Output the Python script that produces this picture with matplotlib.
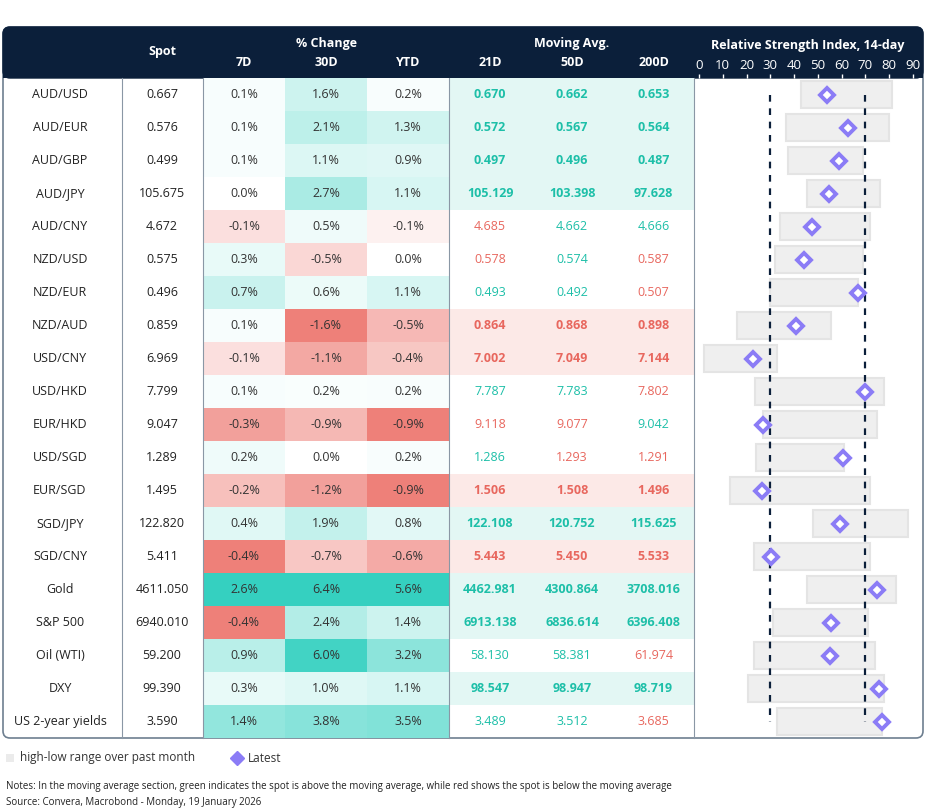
import matplotlib.pyplot as plt
from matplotlib.patches import Rectangle, FancyBboxPatch
import numpy as np

plt.rcParams['font.family'] = ['Open Sans', 'DejaVu Sans']

# --- data ---
pairs = ['AUD/USD', 'AUD/EUR', 'AUD/GBP', 'AUD/JPY', 'AUD/CNY', 'NZD/USD', 'NZD/EUR', 'NZD/AUD',
         'USD/CNY', 'USD/HKD', 'EUR/HKD', 'USD/SGD', 'EUR/SGD', 'SGD/JPY', 'SGD/CNY', 'Gold',
         'S&P 500', 'Oil (WTI)', 'DXY', 'US 2-year yields']
spot = [0.667, 0.576, 0.499, 105.675, 4.672, 0.575, 0.496, 0.859, 6.969, 7.799, 9.047, 1.289,
        1.495, 122.820, 5.411, 4611.050, 6940.010, 59.200, 99.390, 3.590]
chg_7d = [0.1, 0.1, 0.1, 0.0, -0.1, 0.3, 0.7, 0.1, -0.1, 0.1, -0.3, 0.2, -0.2, 0.4, -0.4, 2.6, -0.4, 0.9, 0.3, 1.4]
chg_30d = [1.6, 2.1, 1.1, 2.7, 0.5, -0.5, 0.6, -1.6, -1.1, 0.2, -0.9, 0.0, -1.2, 1.9, -0.7, 6.4, 2.4, 6.0, 1.0, 3.8]
chg_ytd = [0.2, 1.3, 0.9, 1.1, -0.1, 0.0, 1.1, -0.5, -0.4, 0.2, -0.9, 0.2, -0.9, 0.8, -0.6, 5.6, 1.4, 3.2, 1.1, 3.5]
ma_21 = [0.670, 0.572, 0.497, 105.129, 4.685, 0.578, 0.493, 0.864, 7.002, 7.787, 9.118, 1.286,
         1.506, 122.108, 5.443, 4462.981, 6913.138, 58.130, 98.547, 3.489]
ma_50 = [0.662, 0.567, 0.496, 103.398, 4.662, 0.574, 0.492, 0.868, 7.049, 7.783, 9.077, 1.293,
         1.508, 120.752, 5.450, 4300.864, 6836.614, 58.381, 98.947, 3.512]
ma_200 = [0.653, 0.564, 0.487, 97.628, 4.666, 0.587, 0.507, 0.898, 7.144, 7.802, 9.042, 1.291,
          1.496, 115.625, 5.533, 3708.016, 6396.408, 61.974, 98.719, 3.685]
# spot above (1) / below (0) each moving average, as coloured in the reference
above_21 = [1, 1, 1, 1, 0, 0, 1, 0, 0, 1, 0, 1, 0, 1, 0, 1, 1, 1, 1, 1]
above_50 = [1, 1, 1, 1, 1, 1, 1, 0, 0, 1, 0, 0, 0, 1, 0, 1, 1, 1, 1, 1]
above_200 = [1, 1, 1, 1, 1, 0, 0, 0, 0, 0, 1, 0, 0, 1, 0, 1, 1, 0, 1, 0]
rsi_latest = [53.8, 62.7, 59.0, 54.7, 47.5, 44.0, 67.0, 41.0, 22.7, 70.0, 27.0, 60.5, 26.5, 59.3,
              30.3, 75.0, 55.5, 55.0, 75.7, 77.0]
rsi_low = [43, 36.6, 37.5, 45.4, 34, 32, 30, 16, 2, 23.5, 27, 24, 13, 48, 23, 45.4, 31, 23, 20.6, 33]
rsi_high = [81, 80, 69, 76, 72, 69, 67, 55.5, 33, 78, 75, 61, 72, 88, 72, 83, 71, 74, 78, 77]
rsi_ticks = list(range(0, 91, 10))

NAVY = '#0B1F3A'
GREEN_TXT = '#1DBFA8'
RED_TXT = '#E8675E'
TEAL = np.array([0x35, 0xD0, 0xC0]) / 255
SALMON = np.array([0xEE, 0x80, 0x79]) / 255
WHITE = np.array([1, 1, 1])

W, H = 926, 811
fig = plt.figure(figsize=(W / 100, H / 100), dpi=100)
ax = fig.add_axes([0, 0, 1, 1])
ax.set_xlim(0, W)
ax.set_ylim(H, 0)
ax.axis('off')

top, hdr_bot, row_h = 27, 78, 33
n = len(pairs)
bottom = hdr_bot + n * row_h
cols = [3, 122, 203, 285, 367, 449, 531, 613, 694, 923]

# outer border and header
ax.add_patch(FancyBboxPatch((3, top), 920, bottom - top, boxstyle='round,pad=0,rounding_size=7',
                            fc='white', ec='#6E7F90', lw=1.2, zorder=0))
ax.add_patch(FancyBboxPatch((3, top), 920, hdr_bot - top, boxstyle='round,pad=0,rounding_size=7',
                            fc=NAVY, ec=NAVY, lw=1, zorder=1))
ax.add_patch(Rectangle((3, hdr_bot - 10), 920, 10, fc=NAVY, ec='none', zorder=1))


def shade(v, vmax, vmin):
    if v > 0:
        return WHITE + (TEAL - WHITE) * (v / vmax)
    if v < 0:
        return WHITE + (SALMON - WHITE) * (v / vmin)
    return WHITE


for ci, vals in enumerate([chg_7d, chg_30d, chg_ytd]):
    x0 = cols[2 + ci]
    vmax, vmin = max(vals), min(vals)
    for i, v in enumerate(vals):
        y0 = hdr_bot + i * row_h
        ax.add_patch(Rectangle((x0, y0), cols[3 + ci] - x0, row_h, fc=shade(v, vmax, vmin),
                               ec='none', zorder=1))
        ax.text((x0 + cols[3 + ci]) / 2, y0 + row_h / 2, f'{v:.1f}%', ha='center', va='center',
                fontsize=9, color='#333333', zorder=3)

for i in range(n):
    y0 = hdr_bot + i * row_h
    yc = y0 + row_h / 2
    ax.text(60, yc, pairs[i], ha='center', va='center', fontsize=9, color='#222222', zorder=3)
    ax.text(162, yc, f'{spot[i]:.3f}', ha='center', va='center', fontsize=9, color='#222222', zorder=3)
    mas = [ma_21[i], ma_50[i], ma_200[i]]
    above = [above_21[i], above_50[i], above_200[i]]
    uniform = all(above) or not any(above)
    if uniform:
        bg = '#E3F7F4' if all(above) else '#FCE9E7'
        ax.add_patch(Rectangle((cols[5], y0), cols[8] - cols[5], row_h, fc=bg, ec='none', zorder=1))
    for k, m in enumerate(mas):
        ax.text((cols[5 + k] + cols[6 + k]) / 2, yc, f'{m:.3f}', ha='center', va='center',
                fontsize=9, color=GREEN_TXT if above[k] else RED_TXT,
                fontweight='bold' if uniform else 'normal', zorder=3)

for x in [122, 203, 449, 694]:
    ax.plot([x, x], [hdr_bot, bottom], color='#8A97A5', lw=0.8, zorder=2)

# header text
hc = dict(color='white', fontsize=9, fontweight='bold', ha='center', va='center', zorder=3)
ax.text(162, 52, 'Spot', **hc)
ax.text(326, 44, '% Change', **hc)
ax.text(572, 44, 'Moving Avg.', **hc)
for lab, a, b in [('7D', 203, 285), ('30D', 285, 367), ('YTD', 367, 449),
                  ('21D', 449, 531), ('50D', 531, 613), ('200D', 613, 694)]:
    ax.text((a + b) / 2, 62, lab, **hc)
ax.text(808, 45, 'Relative Strength Index, 14-day', **hc)

# RSI panel
r_left, r_right = 699, 913
rax = fig.add_axes([r_left / W, 1 - bottom / H, (r_right - r_left) / W, (bottom - hdr_bot) / H])
rax.set_xlim(0, 90)
rax.set_ylim(n, 0)
rax.patch.set_alpha(0)
for s in rax.spines.values():
    s.set_visible(False)
rax.xaxis.tick_top()
rax.set_xticks(rsi_ticks)
rax.tick_params(axis='x', colors='white', labelsize=9.5, length=3, pad=1, width=1)
rax.set_yticks([])
yc = np.arange(n) + 0.5
rax.barh(yc, np.array(rsi_high) - np.array(rsi_low), left=rsi_low, height=0.8,
         color='#EFEFEF', edgecolor='#E4E4E4', lw=1.5, zorder=1)
for xv in [30, 70]:
    rax.plot([xv, xv], [yc[0], yc[-1]], color=NAVY, lw=1.6, ls=(0, (3, 3)), zorder=2)
rax.plot(rsi_latest, yc, ls='none', marker='D', ms=7.5, mfc='white', mec='#8B7CF6', mew=2.8,
         zorder=3, clip_on=False)

# legend + notes
ax.add_patch(Rectangle((6, 754), 8, 8, fc='#EBEBEB', ec='none'))
ax.text(20, 758, 'high-low range over past month', fontsize=8.5, color='#333333', va='center')
ax.plot([237], [758], marker='D', ms=7, color='#8B7CF6', mec='#8B7CF6')
ax.text(248, 758, 'Latest', fontsize=8.5, color='#333333', va='center')
ax.text(6, 787, 'Notes: In the moving average section, green indicates the spot is above the moving '
        'average, while red shows the spot is below the moving average', fontsize=7, color='#222222',
        va='center')
ax.text(6, 802, 'Source: Convera, Macrobond - Monday, 19 January 2026', fontsize=7, color='#222222',
        va='center')

fig.savefig('out.png', dpi=100)
